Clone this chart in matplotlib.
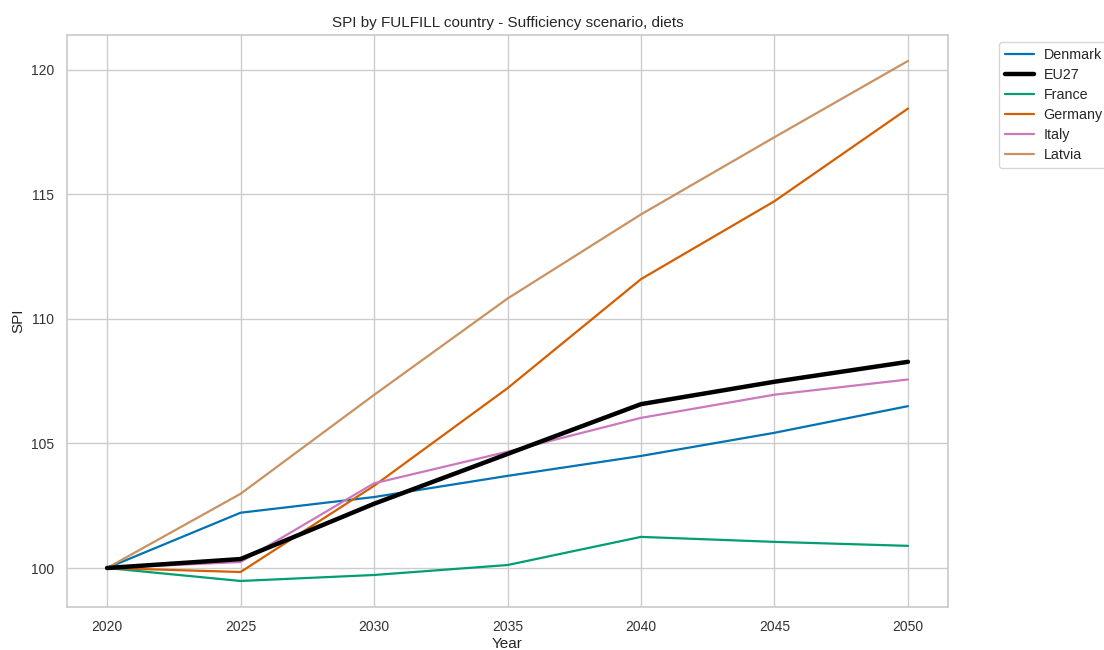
import matplotlib
matplotlib.use("Agg")
import matplotlib.pyplot as plt
import seaborn as sns

years = [2020, 2025, 2030, 2035, 2040, 2045, 2050]
countries = ["Denmark", "EU27", "France", "Germany", "Italy", "Latvia"]
denmark = [100.0, 102.22, 102.85, 103.70, 104.50, 105.43, 106.50]
eu27 = [100.0, 100.36, 102.58, 104.58, 106.58, 107.48, 108.28]
france = [100.0, 99.48, 99.72, 100.12, 101.25, 101.05, 100.89]
germany = [100.0, 99.84, 103.30, 107.22, 111.60, 114.73, 118.45]
italy = [100.0, 100.24, 103.40, 104.67, 106.03, 106.96, 107.57]
latvia = [100.0, 102.98, 106.95, 110.82, 114.20, 117.30, 120.36]
series = [denmark, eu27, france, germany, italy, latvia]

sns.set_theme(style="whitegrid")
plt.rcParams["font.family"] = ["Arial", "Liberation Sans", "DejaVu Sans"]
palette = sns.color_palette("colorblind")
colors = {
    "Denmark": palette[0],
    "EU27": "black",
    "France": palette[2],
    "Germany": palette[3],
    "Italy": palette[4],
    "Latvia": palette[5],
}

fig = plt.figure(figsize=(11.04, 6.5), dpi=100)
ax = fig.add_axes([0.0607, 0.0662, 0.798, 0.88])

for name, vals in zip(countries, series):
    lw = 3.2 if name == "EU27" else 1.6
    ax.plot(years, vals, color=colors[name], linewidth=lw, label=name,
            zorder=3 if name == "EU27" else 2)

ax.set_xticks(years)
ax.set_yticks([100, 105, 110, 115, 120])
ax.tick_params(labelsize=10, colors="#333333")
ax.set_xlabel("Year", fontsize=11, labelpad=2)
ax.set_ylabel("SPI", fontsize=11)
ax.set_title("SPI by FULFILL country - Sufficiency scenario, diets", fontsize=11)
ax.legend(loc="upper left", bbox_to_anchor=(1.05, 1), fontsize=10.3,
          labelspacing=0.42, handletextpad=0.7)

fig.savefig("out.png", dpi=100)
